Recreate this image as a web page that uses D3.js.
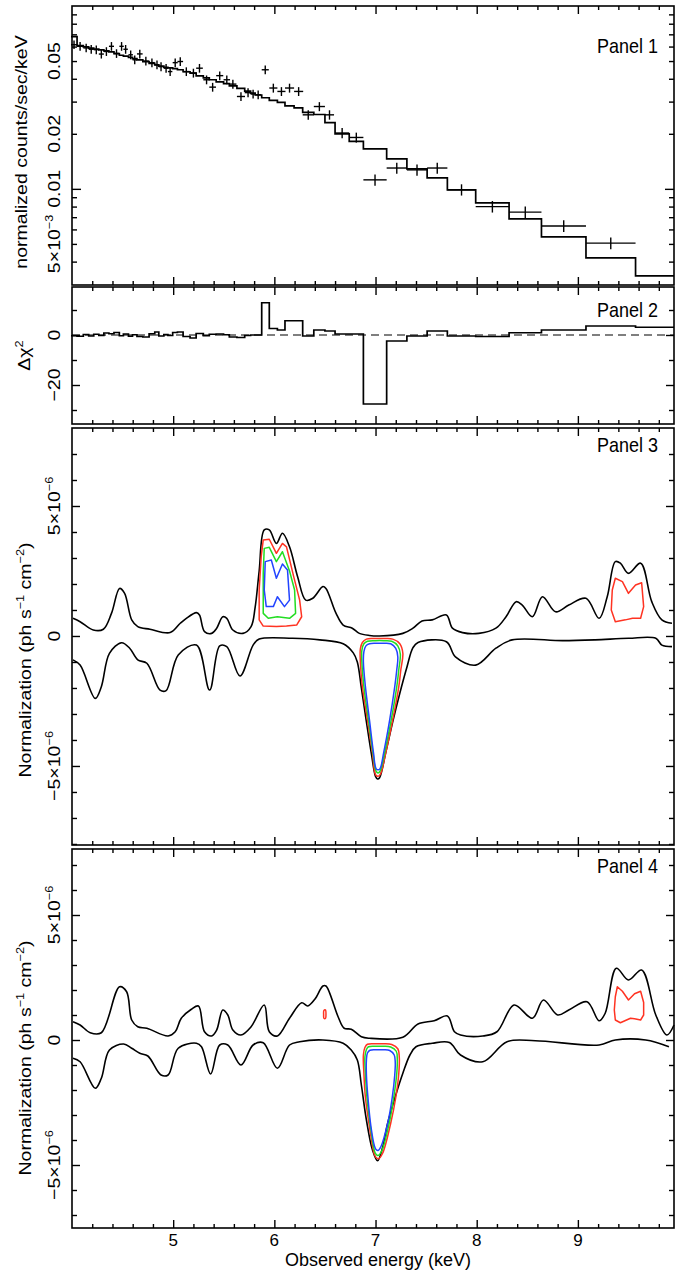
<!DOCTYPE html>
<html>
<head>
<meta charset="utf-8">
<script src="https://cdn.jsdelivr.net/npm/d3@7.9.0/dist/d3.min.js"></script>
<style>
  body { margin: 0; background: #fff; }
  text { font-family: "Liberation Sans", Arial, Helvetica, sans-serif; fill: #000; }
</style>
</head>
<body>
<svg id="chart" width="675" height="1270"></svg>
<script>
// ---- panel 1 : spectrum (bin centre, half width, rate, error, model) ----
const energy = [4.02,4.08,4.14,4.19,4.24,4.29,4.34,4.39,4.44,4.49,4.53,4.58,4.62,4.67,4.73,4.79,4.84,4.88,4.93,4.97,
  5.02,5.07,5.13,5.20,5.26,5.33,5.39,5.46,5.53,5.59,5.67,5.74,5.79,5.84,5.91,5.99,6.07,6.15,6.24,6.335,6.445,6.545,
  6.67,6.81,6.995,7.21,7.41,7.61,7.85,8.155,8.48,8.86,9.325,9.76];
const halfWidth = [.03,.03,.028,.025,.025,.025,.025,.025,.025,.022,.022,.022,.022,.028,.03,.028,.022,.022,.022,.022,
  .025,.028,.032,.033,.033,.032,.033,.035,.032,.035,.04,.033,.025,.03,.035,.04,.04,.045,.045,.055,.055,.045,
  .07,.07,.115,.10,.10,.10,.14,.165,.16,.22,.245,.19];
const rate = [.0614,.0602,.059,.058,.0577,.0546,.0564,.0602,.055,.0602,.058,.0541,.0508,.0547,.050,.049,.0477,.0466,.0457,.0438,
  .049,.0497,.0438,.043,.0457,.0395,.036,.0416,.0395,.0374,.032,.0336,.033,.0327,.0448,.0356,.0341,.0356,.0341,.0254,.0282,.0254,
  .0202,.0191,.0112,.0130,.0127,.0130,.00989,.0080,.00746,.00627,.00505,null];
const rateErr = [.0033,.0033,.0032,.0032,.0032,.003,.0031,.0033,.003,.0033,.0032,.003,.0028,.003,.0028,.0027,.0026,.0026,.0025,.0024,
  .0027,.0027,.0024,.0024,.0025,.0022,.002,.0023,.0022,.0021,.0018,.0019,.0018,.0018,.0025,.002,.0019,.002,.0019,.0015,.0016,.0015,
  .0013,.0012,.0008,.0009,.0009,.0009,.0007,.00058,.00054,.00046,.00037,null];
const model = [.068,.0607,.0597,.0588,.0582,.0575,.0568,.0561,.0549,.0538,.0532,.0524,.0516,.0508,.0496,.0486,.0477,.0469,.0462,.0459,
  .0454,.0448,.0437,.0429,.0415,.0405,.0395,.0385,.0376,.0366,.0354,.0342,.0334,.0326,.0315,.0305,.0297,.0284,.0277,.0262,.0255,.0230,
  .0200,.0182,.01655,.01459,.01287,.01149,.00987,.00838,.00685,.00546,.00419,.00334];
// ---- panel 2 : delta chi^2 per bin ----
const delChi = [-.3,-.5,.2,-.4,.3,-.2,.8,.5,1.0,-.3,.4,-.5,.1,-.6,-.8,.5,1.2,-.4,.2,-.2,
  1.0,1.2,-.6,-1.2,.6,-.3,.3,.4,.1,-.8,-1.0,-.2,0,0,12.9,2.6,2.0,5.7,5.7,-.4,2.0,1.6,
  .4,.4,-27.6,-2.4,-.4,1.6,-.4,-.6,.9,2.0,3.6,3.1];

// ---- panel 3 : normalization scan (units of 1e-6 ph/s/cm2) ----
const p3Upper = [[4.01,.68],[4.08,.55],[4.21,.23],[4.31,.26],[4.39,.87],[4.47,1.83],[4.52,1.64],[4.59,.62],[4.65,.36],[4.77,.26],
  [4.97,.13],[5.07,.49],[5.13,.68],[5.23,.9],[5.26,.81],[5.31,.17],[5.38,.1],[5.43,.3],[5.49,.74],[5.53,.68],[5.59,.23],[5.69,.1],
  [5.77,.36],[5.81,1.1],[5.85,2.5],[5.90,4.08],[5.95,4.08],[6.02,3.56],[6.08,3.95],[6.15,3.43],[6.23,2.28],[6.31,1.38],[6.38,1.45],
  [6.48,1.9],[6.51,1.83],[6.61,.87],[6.68,.42],[6.77,.3],[6.84,.1],[6.94,.02],[7.04,0],[7.27,.1],[7.37,.3],[7.46,.58],[7.56,.62],
  [7.70,.81],[7.76,.3],[7.86,.13],[8.02,.1],[8.19,.3],[8.29,.74],[8.39,1.32],[8.45,1.19],[8.55,.74],[8.65,1.51],[8.78,.93],
  [8.91,1.19],[9.08,1.45],[9.21,.68],[9.29,1.51],[9.37,2.86],[9.42,2.8],[9.50,2.41],[9.62,2.8],[9.73,1.32],[9.83,.62],[9.93,.49]];
const p3Lower = [[4.01,-.92],[4.08,-1.12],[4.23,-2.4],[4.29,-1.95],[4.37,-.67],[4.49,-.26],[4.57,-.47],[4.65,-.92],[4.74,-1.05],
  [4.87,-2.08],[4.93,-2.1],[5.05,-.73],[5.23,-.35],[5.36,-2.08],[5.46,-.38],[5.53,-.41],[5.66,-1.54],[5.79,-.35],[5.85,-.12],
  [6.18,-.09],[6.45,-.15],[6.68,-.3],[6.78,-.65],[6.82,-1.0],[6.86,-2.0],[6.91,-3.3],[6.96,-4.55],[7.0,-5.4],[7.02,-5.5],
  [7.04,-5.45],[7.10,-4.5],[7.17,-3.3],[7.24,-2.2],[7.31,-1.2],[7.37,-.45],[7.42,-.25],[7.70,-.22],[7.79,-.8],[7.99,-1.12],
  [8.19,-.47],[8.35,-.15],[8.85,-.18],[9.17,-.15],[9.50,-.09],[9.77,-.09],[9.83,-.35],[9.93,-.41]];
const p3Red6 = [[5.87,3.05],[5.89,3.69],[5.95,3.72],[6.02,3.18],[6.08,3.56],[6.12,3.43],[6.19,2.3],[6.25,1.38],[6.27,.74],
  [6.22,.42],[6.12,.38],[6.02,.36],[5.89,.38],[5.85,.62],[5.85,1.77]];
const p3Green6 = [[5.89,2.41],[5.90,3.37],[5.95,3.41],[6.02,2.86],[6.08,3.24],[6.15,2.5],[6.20,1.77],[6.21,.87],[6.15,.68],
  [6.03,.74],[5.94,.68],[5.89,.87]];
const p3Blue6 = [[5.90,1.77],[5.91,2.86],[5.97,2.92],[6.02,2.22],[6.08,2.77],[6.13,2.54],[6.15,1.38],[6.10,1.13],[6.03,1.51],
  [5.99,1.13],[5.92,1.13]];
const p3Red7 = [[6.91,-.12],[6.99,-.1],[7.08,-.1],[7.17,-.12],[7.24,-.3],[7.27,-.67],[7.25,-1.3],[7.23,-1.95],[7.17,-3.23],
  [7.10,-4.51],[7.05,-5.3],[7.025,-5.4],[7.0,-5.33],[6.97,-4.51],[6.92,-3.23],[6.87,-1.95],[6.85,-1.0],[6.85,-.5],[6.87,-.25]];
const p3Green7 = [[6.92,-.2],[7.0,-.18],[7.08,-.18],[7.16,-.2],[7.22,-.38],[7.245,-.7],[7.23,-1.3],[7.21,-1.95],[7.155,-3.23],
  [7.09,-4.5],[7.045,-5.2],[7.025,-5.27],[7.005,-5.2],[6.975,-4.5],[6.93,-3.23],[6.885,-1.95],[6.865,-1.0],[6.865,-.55],[6.885,-.3]];
const p3Blue7 = [[6.94,-.3],[7.0,-.28],[7.08,-.28],[7.15,-.3],[7.2,-.48],[7.22,-.8],[7.21,-1.3],[7.19,-1.95],[7.14,-3.23],
  [7.08,-4.5],[7.045,-5.1],[7.025,-5.15],[7.005,-5.1],[6.98,-4.5],[6.94,-3.23],[6.9,-1.95],[6.88,-1.0],[6.885,-.6],[6.905,-.38]];
const p3Red95 = [[9.34,1.77],[9.37,2.22],[9.44,2.09],[9.50,1.64],[9.57,1.96],[9.63,2.05],[9.65,1.13],[9.62,.68],[9.54,.68],
  [9.47,.62],[9.37,.55],[9.33,1.0]];

// ---- panel 4 ----
const p4Upper = [[4.01,.73],[4.08,.6],[4.18,.29],[4.29,.29],[4.47,2.13],[4.54,1.93],[4.59,.8],[4.65,.53],[4.74,.47],[4.95,.16],
  [5.02,.33],[5.08,.87],[5.18,1.23],[5.25,1.36],[5.31,.33],[5.38,.16],[5.43,.4],[5.49,1.2],[5.54,1.0],[5.59,.4],[5.67,.2],
  [5.77,.53],[5.90,1.4],[5.95,.33],[6.03,.16],[6.15,.87],[6.27,1.49],[6.33,1.36],[6.40,1.63],[6.48,2.16],[6.51,2.16],[6.63,.93],
  [6.69,.47],[6.76,.43],[6.86,.13],[6.94,.07],[7.27,.11],[7.42,.64],[7.58,.77],[7.71,.96],[7.78,.33],[7.84,.2],[8.06,.16],
  [8.20,.33],[8.37,1.4],[8.55,.87],[8.66,1.6],[8.80,1.0],[8.91,1.2],[9.09,1.53],[9.21,.77],[9.27,1.07],[9.38,2.87],[9.50,2.4],
  [9.63,2.8],[9.77,1.0],[9.88,.2],[9.95,.6]];
const p4Lower = [[4.01,-.73],[4.08,-.87],[4.23,-1.93],[4.29,-1.53],[4.37,-.4],[4.51,-.16],[4.59,-.33],[4.67,-.53],[4.75,-.64],
  [4.88,-1.4],[4.95,-1.4],[5.05,-.33],[5.23,-.13],[5.28,-.27],[5.37,-1.36],[5.46,-.2],[5.54,-.2],[5.67,-1.0],[5.79,-.2],
  [5.89,-.11],[6.03,-1.13],[6.15,-.2],[6.25,-.07],[6.48,0],[6.68,-.13],[6.76,-.4],[6.82,-.8],[6.86,-1.8],[6.91,-3.2],
  [6.97,-4.4],[7.02,-4.83],[7.07,-4.3],[7.12,-3.33],[7.20,-2.2],[7.27,-1.33],[7.34,-.6],[7.40,-.27],[7.56,-.13],[7.73,-.1],
  [7.84,-.6],[8.06,-.87],[8.30,-.07],[8.58,-.03],[9.21,-.2],[9.37,0],[9.67,0],[9.90,-.27]];
const p4Red65 = [[6.487,1.0],[6.49,1.18],[6.505,1.2],[6.51,1.0],[6.505,.86],[6.49,.87]];
const p4Red7 = [[6.92,-.17],[7.0,-.15],[7.08,-.15],[7.16,-.18],[7.22,-.35],[7.235,-.7],[7.23,-1.33],[7.2,-2.3],[7.15,-3.33],
  [7.07,-4.53],[7.03,-4.75],[7.005,-4.7],[6.985,-4.53],[6.94,-3.47],[6.9,-2.3],[6.885,-1.33],[6.88,-.6],[6.895,-.3]];
const p4Green7 = [[6.93,-.27],[7.0,-.25],[7.08,-.25],[7.15,-.28],[7.205,-.45],[7.215,-.78],[7.21,-1.33],[7.18,-2.3],[7.135,-3.33],
  [7.06,-4.45],[7.025,-4.62],[7.005,-4.57],[6.99,-4.45],[6.95,-3.47],[6.915,-2.3],[6.9,-1.33],[6.895,-.68],[6.91,-.38]];
const p4Blue7 = [[6.945,-.41],[7.0,-.39],[7.08,-.39],[7.14,-.42],[7.185,-.6],[7.195,-.9],[7.19,-1.4],[7.165,-2.3],[7.12,-3.33],
  [7.055,-4.25],[7.025,-4.42],[7.005,-4.38],[6.99,-4.25],[6.955,-3.47],[6.925,-2.3],[6.91,-1.4],[6.91,-.8],[6.92,-.52]];
const p4Red95 = [[9.37,1.73],[9.39,2.13],[9.44,1.95],[9.50,1.6],[9.56,1.85],[9.62,1.95],[9.65,1.5],[9.65,1.0],[9.62,.8],
  [9.56,.85],[9.52,.87],[9.47,.78],[9.42,.69],[9.37,.8],[9.36,1.2]];

// ---- ticks ----
const xMajor = [5, 6, 7, 8, 9];
const xMinor = [4.2,4.4,4.6,4.8,5.2,5.4,5.6,5.8,6.2,6.4,6.6,6.8,7.2,7.4,7.6,7.8,8.2,8.4,8.6,8.8,9.2,9.4,9.6,9.8];
const p1Major = [0.01];
const p1Minor = [0.004,0.005,0.006,0.007,0.008,0.009,0.02,0.03,0.04,0.05,0.06,0.07,0.08,0.09];
const p1Labels = [[0.05, [["0.05"]]], [0.02, [["0.02"]]], [0.01, [["0.01"]]], [0.005, [["5×10"], ["−3", 1]]]];
const p2Major = [-20, 0], p2Minor = [-30, -10, 10];
const p2Labels = [[0, [["0"]]], [-20, [["−20"]]]];
const nMajor = [-5, 0, 5];
const nMinor = [-8,-7,-6,-4,-3,-2,-1,1,2,3,4,6,7,8];
const nLabels = [[5, [["5×10"], ["−6", 1]]], [0, [["0"]]], [-5, [["−5×10"], ["−6", 1]]]];

const RED = "#ff3322", GREEN = "#22dd22", BLUE = "#2244ff";

const svg = d3.select("#chart");
const x = d3.scaleLinear().domain([4, 9.95]).range([72, 674]);

const p1 = { top: 6, bottom: 285 }, p2 = { top: 287, bottom: 424 },
      p3 = { top: 428, bottom: 845 }, p4 = { top: 849, bottom: 1228 };
const y1 = d3.scaleLog().domain([0.00298, 0.1]).range([p1.bottom, p1.top]);
const y2 = d3.scaleLinear().domain([-35.6, 19.2]).range([p2.bottom, p2.top]);
const y3 = d3.scaleLinear().domain([-8.04, 8]).range([p3.bottom, p3.top]);
const y4 = d3.scaleLinear().domain([-7.52, 7.64]).range([p4.bottom, p4.top]);

// sy: the reference text looks a little stretched along the page height
function label(px, py, parts, { rot = false, size = 17, anchor = "middle", sy = 1.15 } = {}) {
  const t = svg.append("text")
    .attr("transform", `translate(${px},${py}) scale(1,${sy})` + (rot ? " rotate(-90)" : ""))
    .attr("text-anchor", anchor).attr("font-size", size);
  let up = false;
  parts.forEach(([s, sup]) => {
    const ts = t.append("tspan").text(s);
    if (sup) { ts.attr("font-size", size * 0.65); if (!up) ts.attr("dy", -0.42 * size); up = true; }
    else if (up) { ts.attr("dy", 0.42 * size); up = false; }
  });
}

function ticks(scale, vals, len, side, pos) {
  const ax = { bottom: d3.axisBottom, top: d3.axisTop, left: d3.axisLeft, right: d3.axisRight }[side](scale);
  const tr = (side === "bottom" || side === "top") ? `translate(0,${pos})` : `translate(${pos},0)`;
  svg.append("g").attr("transform", tr)
    .call(ax.tickValues(vals).tickSize(-len).tickSizeOuter(0).tickFormat(""))
    .call(a => a.select(".domain").remove())
    .selectAll("line").attr("stroke", "#000").attr("stroke-width", 1.4);
}

function frame(p, y, major, minor, majLen) {
  ticks(x, xMajor, 8, "bottom", p.bottom); ticks(x, xMinor, 4, "bottom", p.bottom);
  ticks(x, xMajor, 8, "top", p.top);       ticks(x, xMinor, 4, "top", p.top);
  ticks(y, major, majLen, "left", x.range()[0]);  ticks(y, minor, 5, "left", x.range()[0]);
  ticks(y, major, majLen, "right", x.range()[1]); ticks(y, minor, 5, "right", x.range()[1]);
  svg.append("rect").attr("x", x.range()[0]).attr("y", p.top)
    .attr("width", x.range()[1] - x.range()[0]).attr("height", p.bottom - p.top)
    .attr("fill", "none").attr("stroke", "#000").attr("stroke-width", 1.6);
}

function yLabels(y, list, px) {
  list.forEach(([v, parts]) => label(px, y(v), parts, { rot: true }));
}

// ---------- Panel 1 ----------
const steps = (vals) => energy.map((e, i) => [e - halfWidth[i], vals[i]])
  .concat([[energy[energy.length - 1] + halfWidth[halfWidth.length - 1], vals[vals.length - 1]]]);

svg.append("path")
  .attr("d", d3.line().x(d => x(d[0])).y(d => y1(d[1])).curve(d3.curveStepAfter)(steps(model)))
  .attr("fill", "none").attr("stroke", "#000").attr("stroke-width", 1.7);

const pts = energy.map((e, i) => ({ e, hw: halfWidth[i], r: rate[i], err: rateErr[i] })).filter(d => d.r != null);
const cross = svg.append("g").attr("stroke", "#000").attr("stroke-width", 1.4);
cross.selectAll(".h").data(pts).join("line")
  .attr("x1", d => x(d.e - d.hw)).attr("x2", d => x(d.e + d.hw))
  .attr("y1", d => y1(d.r)).attr("y2", d => y1(d.r));
cross.selectAll(".v").data(pts).join("line")
  .attr("x1", d => x(d.e)).attr("x2", d => x(d.e))
  .attr("y1", d => y1(d.r - d.err)).attr("y2", d => y1(d.r + d.err));

frame(p1, y1, p1Major, p1Minor, 9);
yLabels(y1, p1Labels, 60);
label(27, 152, [["normalized counts/sec/keV"]], { rot: true });
label(658, 53, [["Panel 1"]], { anchor: "end", size: 18 });

// ---------- Panel 2 ----------
svg.append("line").attr("x1", x(4)).attr("x2", x(9.95)).attr("y1", y2(0)).attr("y2", y2(0))
  .attr("stroke", "#000").attr("stroke-width", 1.2).attr("stroke-dasharray", "8,5");
svg.append("path")
  .attr("d", d3.line().x(d => x(d[0])).y(d => y2(d[1])).curve(d3.curveStepAfter)(steps(delChi)))
  .attr("fill", "none").attr("stroke", "#000").attr("stroke-width", 1.7);
frame(p2, y2, p2Major, p2Minor, 8);
yLabels(y2, p2Labels, 60);
label(30, (p2.top + p2.bottom) / 2, [["Δχ"], ["2", 1]], { rot: true });
label(658, 317, [["Panel 2"]], { anchor: "end", size: 18 });

// ---------- Panels 3 & 4 ----------
function scanPanel(p, y, curves, contours, labelY, title) {
  const line = d3.line().x(d => x(d[0])).y(d => y(d[1]));
  curves.forEach(c => svg.append("path").attr("d", line.curve(d3.curveCatmullRom.alpha(0.5))(c))
    .attr("fill", "none").attr("stroke", "#000").attr("stroke-width", 1.6).attr("stroke-linejoin", "round"));
  contours.forEach(([c, col, smooth]) => svg.append("path")
    .attr("d", line.curve(smooth ? d3.curveCatmullRomClosed : d3.curveLinearClosed)(c))
    .attr("fill", "none").attr("stroke", col).attr("stroke-width", 1.5).attr("stroke-linejoin", "round"));
  frame(p, y, nMajor, nMinor.filter(v => y(v) > p.top && y(v) < p.bottom), 8);
  yLabels(y, nLabels, 60);
  label(31, labelY, [["Normalization (ph s"], ["−1", 1], [" cm"], ["−2", 1], [")"]], { rot: true });
  label(658, p.top + 24, [[title]], { anchor: "end", size: 18 });
}

scanPanel(p3, y3, [p3Upper, p3Lower],
  [[p3Red6, RED], [p3Green6, GREEN], [p3Blue6, BLUE],
   [p3Red7, RED, 1], [p3Green7, GREEN, 1], [p3Blue7, BLUE, 1], [p3Red95, RED]],
  660, "Panel 3");
scanPanel(p4, y4, [p4Upper, p4Lower],
  [[p4Red65, RED, 1], [p4Red7, RED, 1], [p4Green7, GREEN, 1], [p4Blue7, BLUE, 1], [p4Red95, RED]],
  1058, "Panel 4");

// ---------- x axis labels ----------
xMajor.forEach(v => label(x(v), 1246, [[String(v)]], { size: 17, sy: 1 }));
label(378, 1266, [["Observed energy (keV)"]], { size: 18, sy: 1 });
</script>
</body>
</html>
